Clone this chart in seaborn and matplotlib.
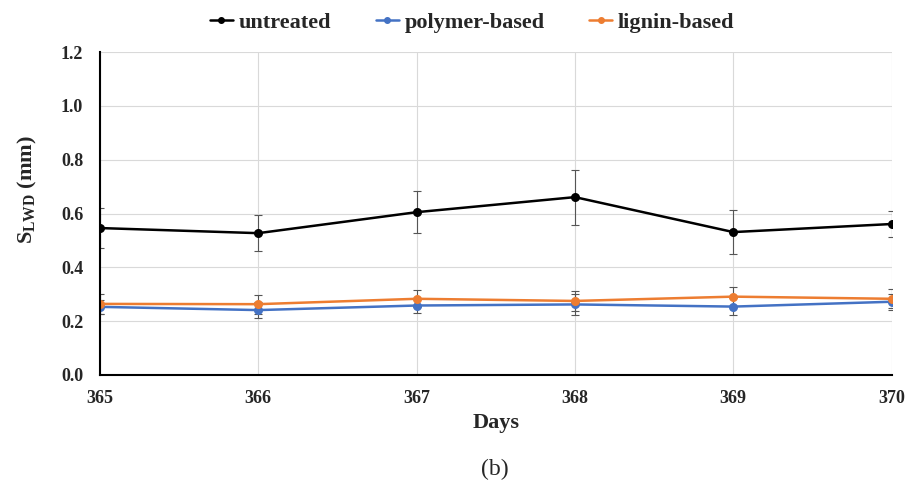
import numpy as np
import pandas as pd
import matplotlib.pyplot as plt
import seaborn as sns

# Dados
days = [365, 366, 367, 368, 369, 370]
untreated = [0.546, 0.527, 0.605, 0.661, 0.531, 0.561]
untreated_err = [0.075, 0.066, 0.078, 0.102, 0.083, 0.047]
polymer = [0.253, 0.241, 0.258, 0.262, 0.254, 0.272]
polymer_err = [0.025, 0.030, 0.028, 0.040, 0.032, 0.030]
lignin = [0.264, 0.263, 0.283, 0.275, 0.291, 0.283]
lignin_err = [0.037, 0.035, 0.032, 0.036, 0.035, 0.035]

series = ["untreated", "polymer-based", "lignin-based"]
cores = {"untreated": "#000000", "polymer-based": "#4472C4", "lignin-based": "#ED7D31"}

df = pd.DataFrame({
    "Days": days * 3,
    "S": untreated + polymer + lignin,
    "err": untreated_err + polymer_err + lignin_err,
    "serie": np.repeat(series, len(days)),
})

sns.set_style("white")
plt.rcParams["font.family"] = ["Liberation Serif", "DejaVu Serif"]
plt.rcParams["mathtext.fontset"] = "custom"
plt.rcParams["mathtext.rm"] = "Liberation Serif"
plt.rcParams["mathtext.it"] = "Liberation Serif:italic"
plt.rcParams["mathtext.bf"] = "Liberation Serif:bold"

fig = plt.figure(figsize=(9.08, 4.92), dpi=100)
ax = fig.add_axes([0.110, 0.238, 0.872, 0.656])

sns.lineplot(data=df, x="Days", y="S", hue="serie", hue_order=series,
             palette=cores, marker="o", markersize=6.5, markeredgewidth=0,
             linewidth=1.8, ax=ax, legend=False)

# Barras de erro
for s in series:
    d = df[df["serie"] == s]
    ax.errorbar(d["Days"], d["S"], yerr=d["err"], fmt="none",
                ecolor="#555555", elinewidth=0.8, capsize=3, capthick=0.8, zorder=1)

ax.set_xlim(365, 370)
ax.set_ylim(0, 1.2)
ax.set_xticks(days)
ax.set_yticks(np.arange(0, 1.21, 0.2))
ax.set_yticklabels([f"{v:.1f}" for v in np.arange(0, 1.21, 0.2)])
ax.grid(True, color="#d9d9d9", linewidth=0.8)
ax.set_axisbelow(True)
for lado in ["top", "right"]:
    ax.spines[lado].set_visible(False)
for lado in ["left", "bottom"]:
    ax.spines[lado].set_color("black")
    ax.spines[lado].set_linewidth(1.5)

ax.tick_params(axis="both", length=0, labelsize=13)
ax.tick_params(axis="x", pad=11)
ax.tick_params(axis="y", pad=12)
for lbl in ax.get_xticklabels() + ax.get_yticklabels():
    lbl.set_fontweight("bold")

ax.set_xlabel("Days", fontsize=16, fontweight="bold", labelpad=4)
ax.set_ylabel(r"S$_{\mathbf{LWD}}$ (mm)", fontsize=16, fontweight="bold")
ax.yaxis.set_label_coords(-0.077, 0.575)

# Legenda no topo
handles = [plt.Line2D([], [], color=cores[s], marker="o", markersize=4, linewidth=1.8)
           for s in series]
fig.legend(handles, series, loc="upper center", bbox_to_anchor=(0.52, 1.015),
           ncol=3, frameon=False, columnspacing=2.0, handlelength=1.05,
           handletextpad=0.25, prop={"weight": "bold", "size": 16})

fig.text(0.545, 0.035, "(b)", ha="center", fontsize=17)

plt.savefig("out.png", dpi=100)
plt.close()
